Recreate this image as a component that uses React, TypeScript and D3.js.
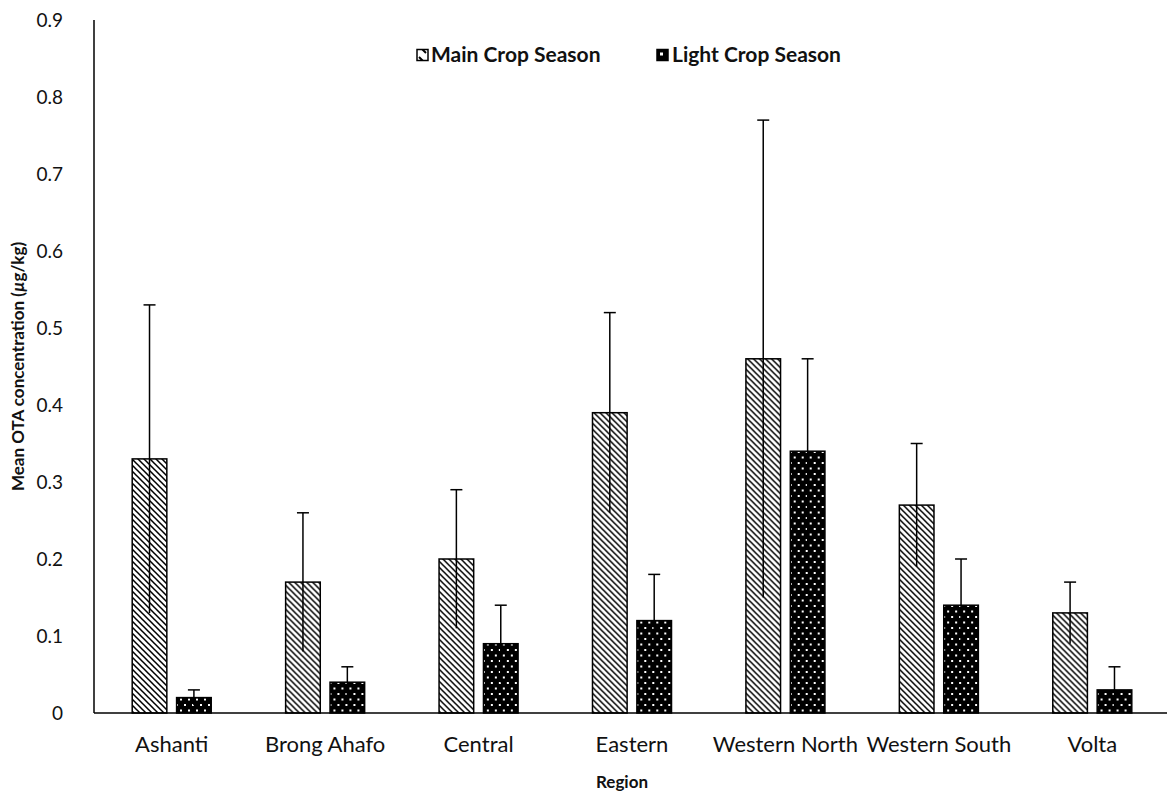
import React from "react";
import * as d3 from "d3";

const regions = ["Ashanti", "Brong Ahafo", "Central", "Eastern", "Western North", "Western South", "Volta"];
const seriesNames = ["Main Crop Season", "Light Crop Season"];
const mainMeans = [0.33, 0.17, 0.2, 0.39, 0.46, 0.27, 0.13];
const mainErrors = [0.2, 0.09, 0.09, 0.13, 0.31, 0.08, 0.04];
const lightMeans = [0.02, 0.04, 0.09, 0.12, 0.34, 0.14, 0.03];
const lightErrors = [0.01, 0.02, 0.05, 0.06, 0.12, 0.06, 0.03];
const yTicks = [0, 0.1, 0.2, 0.3, 0.4, 0.5, 0.6, 0.7, 0.8, 0.9];

const W = 1167;
const H = 798;
const margin = { top: 20, right: 0, bottom: 85, left: 94 };
const font = "Lato, 'Open Sans', sans-serif";

const App = () => {
  const innerW = W - margin.left - margin.right;
  const innerH = H - margin.top - margin.bottom;

  // category bands (the first band starts just right of the y axis)
  const x0 = d3.scaleBand().domain(regions).range([1, innerW + 2]).padding(0);
  const bw = x0.bandwidth();
  const groupW = bw * 0.515;
  const x1 = d3
    .scaleBand()
    .domain(seriesNames)
    .range([(bw - groupW) / 2, (bw + groupW) / 2])
    .paddingInner(0.22);
  const y = d3.scaleLinear().domain([0, 0.9]).range([innerH, 0]);

  const series = [
    { name: seriesNames[0], means: mainMeans, errs: mainErrors, fill: "url(#hatch)" },
    { name: seriesNames[1], means: lightMeans, errs: lightErrors, fill: "url(#dots)" },
  ];

  return (
    <svg width={W} height={H} style={{ display: "block", position: "absolute", left: 0, top: 0 }} fontFamily={font}>
      <defs>
        <pattern id="hatch" patternUnits="userSpaceOnUse" width="6" height="6">
          <rect width="6" height="6" fill="#fff" />
          <path d="M-1,-1 L7,7 M-1,5 L1,7 M5,-1 L7,1" stroke="#000" strokeWidth="1.5" />
        </pattern>
        <pattern id="dots" patternUnits="userSpaceOnUse" width="8" height="11">
          <rect width="8" height="11" fill="#000" />
          <rect x="1" y="2" width="2" height="2" fill="#fff" />
          <rect x="5" y="7.5" width="2" height="2" fill="#fff" />
        </pattern>
        <pattern id="hatchLeg" patternUnits="userSpaceOnUse" width="11" height="11">
          <rect width="11" height="11" fill="#fff" />
          <path d="M2,2 L9,9" stroke="#000" strokeWidth="2" />
        </pattern>
      </defs>
      <g transform={`translate(${margin.left},${margin.top})`}>
        {regions.map((r, i) => (
          <g key={r} transform={`translate(${x0(r)},0)`}>
            {series.map((s) => {
              const bx = x1(s.name) as number;
              const w = x1.bandwidth();
              const cx = bx + w / 2;
              const v = s.means[i];
              const e = s.errs[i];
              return (
                <g key={s.name}>
                  <rect x={bx} y={y(v)} width={w} height={innerH - y(v)} fill={s.fill} stroke="#000" strokeWidth={1.5} />
                  <line x1={cx} x2={cx} y1={y(v + e)} y2={y(Math.max(0, v - e))} stroke="#000" strokeWidth={1.5} />
                  <line x1={cx - 6} x2={cx + 6} y1={y(v + e)} y2={y(v + e)} stroke="#000" strokeWidth={1.5} />
                </g>
              );
            })}
            <text x={bw / 2} y={innerH + 39} textAnchor="middle" fontSize={22} fill="#111">
              {r}
            </text>
          </g>
        ))}
        <line x1={0} x2={0} y1={0} y2={innerH} stroke="#000" strokeWidth={1.5} />
        <line x1={0} x2={innerW} y1={innerH} y2={innerH} stroke="#000" strokeWidth={1.5} />
        {yTicks.map((t) => (
          <text key={t} x={-31} y={y(t)} dy="0.35em" textAnchor="end" fontSize={19} fill="#111">
            {t === 0 ? "0" : t.toFixed(1)}
          </text>
        ))}
        <text x={528} y={innerH + 75} textAnchor="middle" fontSize={17} fontWeight="bold" fill="#111">
          Region
        </text>
        <text
          transform={`translate(${-70},${innerH / 2}) rotate(-90)`}
          textAnchor="middle"
          fontSize={17}
          fontWeight="bold"
          fill="#111"
        >
          Mean OTA concentration (<tspan fontStyle="italic">µ</tspan>g/kg)
        </text>
        <g transform={`translate(${323},${35})`}>
          <rect x={0} y={-5.5} width={11} height={11} fill="url(#hatchLeg)" stroke="#000" strokeWidth={1.5} />
          <text x={14} y={0} dy="0.35em" fontSize={21} fontWeight="bold" fill="#111">
            {seriesNames[0]}
          </text>
          <rect x={240} y={-5.5} width={11} height={11} fill="#000" stroke="#000" strokeWidth={1.5} />
          <rect x={243} y={-2.5} width={3} height={3} fill="#fff" />
          <text x={255} y={0} dy="0.35em" fontSize={21} fontWeight="bold" fill="#111">
            {seriesNames[1]}
          </text>
        </g>
      </g>
    </svg>
  );
};

export default App;
